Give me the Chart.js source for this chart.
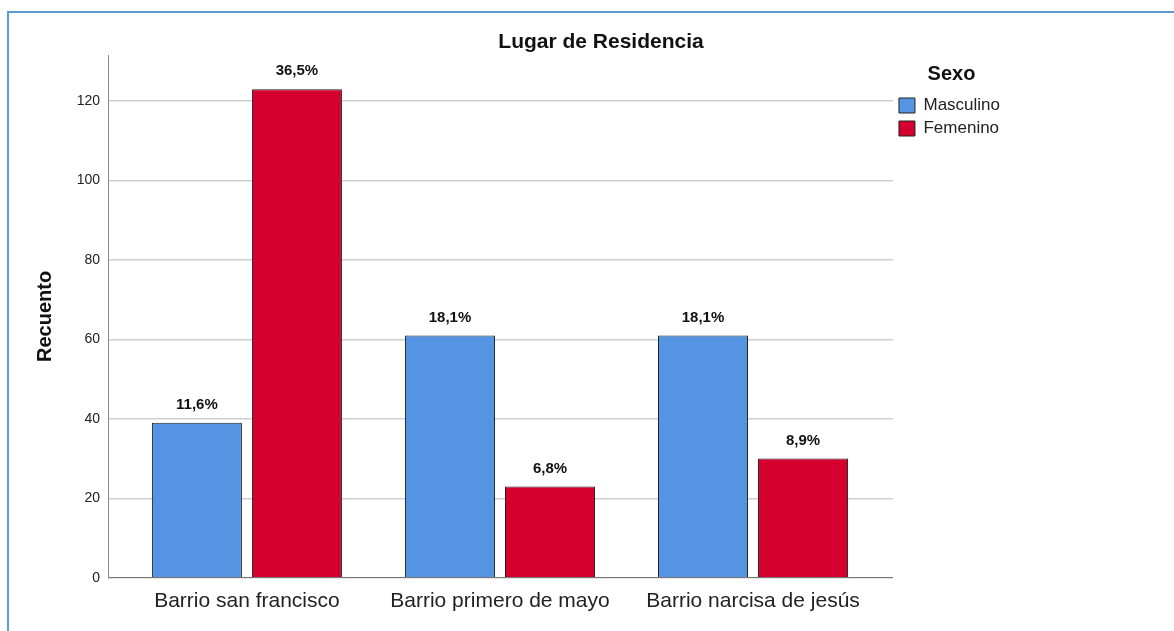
<!DOCTYPE html>
<html>
<head>
<meta charset="utf-8">
<script src="https://cdn.jsdelivr.net/npm/chart.js@4.4.0/dist/chart.umd.min.js"></script>
<style>
  body { margin: 0; background: #fff; overflow: hidden; }
  #frame { position: absolute; left: 7px; top: 11px; width: 1200px; height: 700px;
           border-top: 2px solid #5b9bd5; border-left: 2px solid #5b9bd5; }
  #chart { position: absolute; left: 0; top: 0; }
</style>
</head>
<body>
<div id="frame"></div>
<canvas id="chart" width="1174" height="631"></canvas>
<script>
let categories = ['Barrio san francisco', 'Barrio primero de mayo', 'Barrio narcisa de jesús'];
let masculino = [39, 61, 61];
let femenino = [123, 23, 30];
let masculinoPct = ['11,6%', '18,1%', '18,1%'];
let femeninoPct = ['36,5%', '6,8%', '8,9%'];

let font = '"Liberation Sans", Arial, sans-serif';

// title drawn by hand so it can sit over the whole picture, not just the plot
let titlePlugin = {
    id: 'spssTitle',
    afterDraw(chart) {
        let ctx = chart.ctx;
        ctx.save();
        ctx.font = 'bold 21px ' + font;
        ctx.fillStyle = '#111';
        ctx.textAlign = 'center';
        ctx.textBaseline = 'middle';
        ctx.fillText('Lugar de Residencia', 601, 42);
        ctx.restore();
    }
};

// percentage labels on top of the bars
let pctPlugin = {
    id: 'pctLabels',
    afterDatasetsDraw(chart) {
        let ctx = chart.ctx;
        let pcts = [masculinoPct, femeninoPct];
        ctx.save();
        ctx.font = 'bold 15px ' + font;
        ctx.fillStyle = '#111';
        ctx.textAlign = 'center';
        ctx.textBaseline = 'middle';
        chart.data.datasets.forEach(function(ds, di){
            chart.getDatasetMeta(di).data.forEach(function(bar, i){
                ctx.fillText(pcts[di][i], bar.x, bar.y - 18);
            });
        });
        ctx.restore();
    }
};

let toPoints = (vals) => vals.map((v, i) => ({x: i, y: v}));

let chart = new Chart(document.querySelector('#chart').getContext('2d'), {
    type: 'bar',
    data: {
        datasets: [{
            label: 'Masculino',
            data: toPoints(masculino),
            backgroundColor: '#5494e2',
            borderColor: '#222',
            borderWidth: 1
        }, {
            label: 'Femenino',
            data: toPoints(femenino),
            backgroundColor: '#d6002e',
            borderColor: '#222',
            borderWidth: 1
        }]
    },
    plugins: [titlePlugin, pctPlugin],
    options: {
        responsive: false,
        animation: false,
        devicePixelRatio: 1,
        categoryPercentage: 0.7905,
        barPercentage: 0.9,
        layout: { padding: { left: 30, right: 164, top: 55, bottom: 14 } },
        plugins: {
            tooltip: { enabled: false },
            legend: {
                position: 'right',
                align: 'start',
                title: {
                    display: true,
                    text: 'Sexo',
                    color: '#111',
                    font: { family: font, size: 20, weight: 'bold' },
                    padding: { top: 9, bottom: 3 }
                },
                labels: {
                    color: '#222',
                    font: { family: font, size: 17 },
                    boxWidth: 16,
                    boxHeight: 15,
                    padding: 6
                }
            }
        },
        scales: {
            x: {
                type: 'linear',
                offset: false,
                min: -0.549,
                max: 2.553,
                grid: { display: false },
                border: { display: true, color: '#777', width: 1 },
                ticks: {
                    stepSize: 1,
                    includeBounds: false,
                    maxRotation: 0,
                    autoSkip: false,
                    padding: 3,
                    color: '#222',
                    font: { family: font, size: 21 },
                    callback: (v) => Number.isInteger(v) ? categories[v] : ''
                }
            },
            y: {
                min: 0,
                max: 131.6,
                grid: { color: '#cfcfcf', lineWidth: 1.5, drawTicks: false },
                border: { display: true, color: '#888', width: 1 },
                ticks: {
                    stepSize: 20,
                    includeBounds: false,
                    padding: 8,
                    color: '#222',
                    font: { family: font, size: 14 }
                },
                title: {
                    display: true,
                    text: 'Recuento',
                    color: '#111',
                    font: { family: font, size: 20, weight: 'bold' },
                    padding: { top: 3, bottom: 0 }
                },
                afterFit(scale) { scale.width = 78; }
            }
        }
    }
});
</script>
</body>
</html>
